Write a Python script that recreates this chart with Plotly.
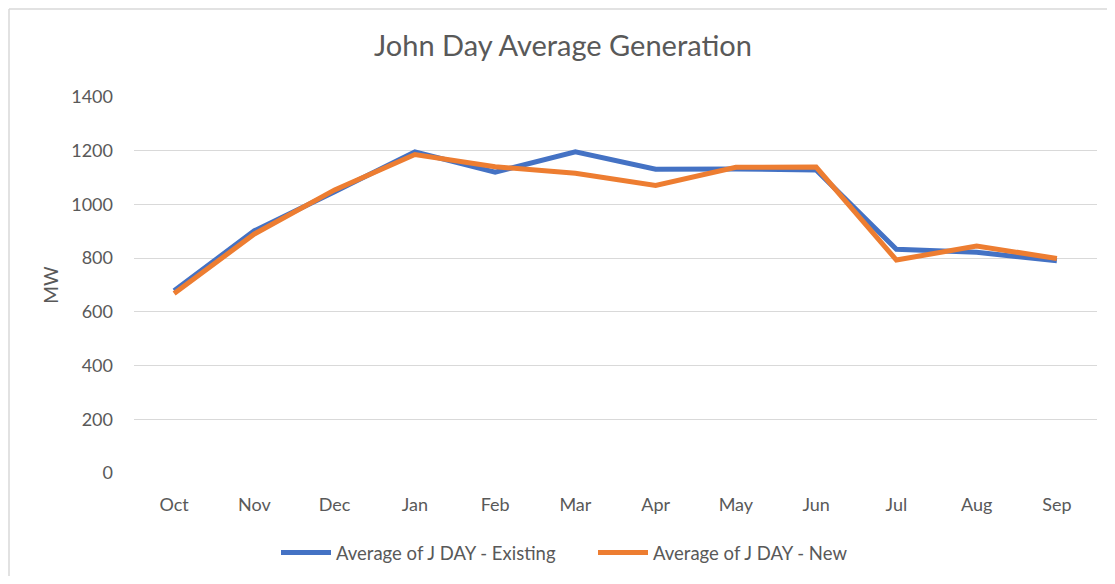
import plotly.graph_objects as go

months = ["Oct", "Nov", "Dec", "Jan", "Feb", "Mar", "Apr", "May", "Jun", "Jul", "Aug", "Sep"]
existing = [679, 902, 1047, 1196, 1120, 1196, 1131, 1132, 1128, 833, 822, 790]
new = [668, 890, 1054, 1186, 1140, 1116, 1071, 1138, 1139, 793, 845, 799]
y_ticks = [0, 200, 400, 600, 800, 1000, 1200, 1400]

OFF = 8  # page body margin
W, H = 1099, 568
# target plot area in page pixels: left 134, right 1097, top 97, bottom 473
L = 134 - OFF
T = 97 - OFF
R = W - (1097 - OFF)
B = H - (473 - OFF)
pw, ph = W - L - R, H - T - B

def px_x(page_x):
    return (page_x - OFF - L) / pw

def px_y(page_y):
    return 1 - (page_y - OFF - T) / ph

fig = go.Figure()
fig.add_trace(go.Scatter(x=months, y=existing, mode="lines", name="Average of J DAY - Existing",
                         line=dict(color="#4472C4", width=5), legend="legend"))
fig.add_trace(go.Scatter(x=months, y=new, mode="lines", name="Average of J DAY - New",
                         line=dict(color="#ED7D31", width=5), legend="legend2"))

font = "Lato, 'Open Sans', sans-serif"
leg_common = dict(orientation="h", yanchor="middle", xanchor="left", y=px_y(553),
                  font=dict(size=18.5, color="#595959"), itemwidth=50, bgcolor="rgba(0,0,0,0)")
fig.update_layout(
    width=W, height=H,
    margin=dict(l=L, r=R, t=T, b=B, autoexpand=False),
    paper_bgcolor="white", plot_bgcolor="white",
    font=dict(family=font, color="#595959", size=18),
    title=dict(text="John Day Average Generation", x=px_x(563), xanchor="center", xref="paper",
               y=1 - (46 - OFF) / H, yanchor="middle",
               font=dict(size=29, color="#595959", family=font)),
    xaxis=dict(type="category", range=[-0.5, 11.5], showgrid=False, showline=False, zeroline=False, ticks="",
               tickfont=dict(size=18, color="#595959"), ticklabelstandoff=19, automargin=False),
    yaxis=dict(range=[0, 1400], tickvals=y_ticks, showgrid=True, gridcolor="#D9D9D9", gridwidth=1.3,
               zeroline=False, showline=False, ticks="", tickfont=dict(size=18, color="#595959"),
               ticklabelstandoff=20, automargin=False,
               title=dict(text="MW", font=dict(size=19, color="#595959"), standoff=7)),
    legend=dict(x=px_x(283 - 7), **leg_common),
    legend2=dict(x=px_x(600 - 7), **leg_common),
    showlegend=True,
)
# chart border (left and top edges visible)
x0 = (-L + 1) / pw
y0 = 1 + (T - 1) / ph
fig.add_shape(type="line", xref="paper", yref="paper", x0=x0, x1=(W + 20 - L) / pw, y0=y0, y1=y0,
              line=dict(color="#D9D9D9", width=1.5))
fig.add_shape(type="line", xref="paper", yref="paper", x0=x0, x1=x0, y0=y0, y1=-(H + 20 - T - ph) / ph,
              line=dict(color="#D9D9D9", width=1.5))

fig.write_html("out.html")
